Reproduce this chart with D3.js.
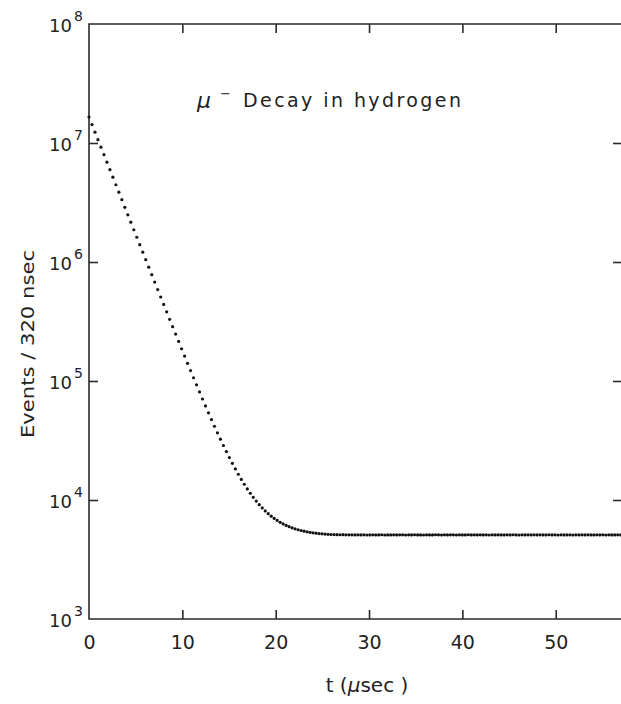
<!DOCTYPE html>
<html>
<head>
<meta charset="utf-8">
<script src="https://cdn.jsdelivr.net/npm/d3@7"></script>
<style>
  html, body { margin: 0; padding: 0; background: #fff; }
  svg { display: block; }
  text { font-family: "DejaVu Sans", sans-serif; fill: #222; }
</style>
</head>
<body>
<div id="container"></div>
<script>
// bin width of the histogram (usec) -- one point per 320 nsec bin
const binWidth = 0.32;

// events per bin (bin 0 at t = 0)
const counts = [
  16500000, 14270000, 12340000, 10670000, 9230000, 7980000, 6900000, 5970000, 5160000, 4460000,
  3860000, 3340000, 2880000, 2490000, 2160000, 1867000, 1615000, 1397000, 1209000, 1046000,
  905000, 783000, 678000, 587000, 508000, 440000, 381000, 330000, 286000, 248000,
  215000, 186700, 162100, 140800, 122400, 106500, 92800, 80900, 70600, 61750,
  54060, 47420, 41670, 36710, 32420, 28710, 25500, 22720, 20320, 18250,
  16460, 14900, 13560, 12400, 11400, 10535, 9786, 9138, 8577, 8094,
  7675, 7313, 7000, 6729, 6495, 6293, 6118, 5966, 5836, 5722,
  5625, 5540, 5467, 5404, 5349, 5302, 5261, 5226, 5195, 5169,
  5146, 5131, 5120, 5112, 5104, 5110, 5098, 5093, 5101, 5089,
  5095, 5087, 5102, 5080, 5091, 5098, 5084, 5090, 5105, 5079,
  5092, 5088, 5096, 5083, 5100, 5094, 5081, 5097, 5089, 5103,
  5086, 5092, 5078, 5099, 5090, 5085, 5107, 5093, 5082, 5096,
  5088, 5101, 5094, 5080, 5097, 5086, 5091, 5104, 5083, 5095,
  5090, 5099, 5085, 5093, 5079, 5102, 5088, 5096, 5091, 5084,
  5098, 5087, 5105, 5092, 5081, 5095, 5089, 5100, 5086, 5094,
  5083, 5097, 5090, 5088, 5103, 5085, 5093, 5079, 5099, 5091,
  5087, 5096, 5082, 5101, 5090, 5094, 5086, 5098, 5084, 5092,
  5100, 5088, 5095, 5081, 5097, 5090, 5086, 5093, 5089
];

const xTicks = [0, 10, 20, 30, 40, 50];
const yTickExps = [3, 4, 5, 6, 7, 8];

const width = 621, height = 704;
const m = { left: 89, right: 622, top: 24, bottom: 619 };

const x = d3.scaleLinear().domain([0, 57.1]).range([m.left, m.right]);
const y = d3.scaleLog().domain([1e3, 1e8]).range([m.bottom, m.top]);

const svg = d3.select('#container').append('svg')
  .attr('width', width)
  .attr('height', height);

const ink = '#2a2a2a';

// -- frame
svg.append('path')
  .attr('fill', 'none')
  .attr('stroke', ink)
  .attr('stroke-width', 1.6)
  .attr('d', `M${m.right},${m.top}H${m.left}V${m.bottom}H${m.right}`);

// -- axes with inward ticks
const tickLen = 9;
const gBottom = svg.append('g')
  .attr('transform', `translate(0,${m.bottom})`)
  .call(d3.axisBottom(x).tickValues(xTicks).tickSize(-tickLen).tickPadding(tickLen + 8).tickFormat(d3.format('d')));
const gTop = svg.append('g')
  .attr('transform', `translate(0,${m.top})`)
  .call(d3.axisTop(x).tickValues(xTicks.filter(d => d > 0)).tickSize(-tickLen).tickFormat(''));
const gLeft = svg.append('g')
  .attr('transform', `translate(${m.left},0)`)
  .call(d3.axisLeft(y).tickValues(yTickExps.map(e => Math.pow(10, e))).tickSize(-tickLen).tickFormat(''));
const gRight = svg.append('g')
  .attr('transform', `translate(${m.right},0)`)
  .call(d3.axisRight(y).tickValues(yTickExps.slice(1, 5).map(e => Math.pow(10, e))).tickSize(-tickLen).tickFormat(''));

[gBottom, gTop, gLeft, gRight].forEach(g => {
  g.select('.domain').remove();
  g.selectAll('.tick line').attr('stroke', ink).attr('stroke-width', 1.6);
});
gBottom.selectAll('.tick line').filter(d => d === 0).remove();
gLeft.selectAll('.tick line').filter(d => d === 1e3 || d === 1e8).remove();

gBottom.selectAll('.tick text')
  .attr('font-size', 19)
  .attr('font-family', '"DejaVu Sans", sans-serif')
  .attr('fill', '#222');

// -- y tick labels: "10" plus a separate exponent
const yLabels = svg.append('g')
  .selectAll('g')
  .data(yTickExps)
  .join('g')
  .attr('transform', d => `translate(0,${y(Math.pow(10, d))})`);
yLabels.append('text')
  .attr('x', 72)
  .attr('y', 8)
  .attr('text-anchor', 'end')
  .attr('font-size', 18)
  .text('10');
yLabels.append('text')
  .attr('x', 74)
  .attr('y', -3)
  .attr('font-size', 14)
  .text(d => d);

// -- data points
svg.append('g')
  .selectAll('circle')
  .data(counts)
  .join('circle')
  .attr('cx', (d, i) => x(i * binWidth))
  .attr('cy', d => y(d))
  .attr('r', 1.6)
  .attr('fill', '#111');

// -- annotation
svg.append('text')
  .attr('x', 197)
  .attr('y', 108)
  .attr('font-size', 22)
  .attr('font-style', 'italic')
  .text('μ');
svg.append('text')
  .attr('x', 220)
  .attr('y', 98)
  .attr('font-size', 13)
  .text('−');
svg.append('text')
  .attr('x', 243)
  .attr('y', 107)
  .attr('font-size', 19)
  .attr('textLength', 218)
  .attr('lengthAdjust', 'spacing')
  .text('Decay  in  hydrogen');

// -- axis titles
const xTitle = svg.append('text')
  .attr('x', 367)
  .attr('y', 692)
  .attr('text-anchor', 'middle')
  .attr('font-size', 20);
xTitle.append('tspan').text('t  (');
xTitle.append('tspan').attr('font-style', 'italic').text('μ');
xTitle.append('tspan').text('sec )');

svg.append('text')
  .attr('transform', 'translate(34,344) rotate(-90)')
  .attr('text-anchor', 'middle')
  .attr('font-size', 18)
  .attr('textLength', 188)
  .attr('lengthAdjust', 'spacingAndGlyphs')
  .text('Events / 320 nsec');
</script>
</body>
</html>
